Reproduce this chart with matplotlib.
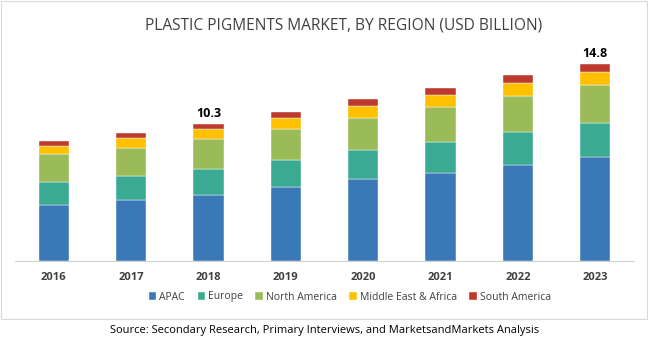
import numpy as np
import matplotlib.pyplot as plt
from matplotlib.patches import Rectangle

years = ['2016', '2017', '2018', '2019', '2020', '2021', '2022', '2023']
apac = [4.24, 4.62, 4.99, 5.59, 6.15, 6.65, 7.25, 7.85]
europe = [1.73, 1.76, 1.91, 2.03, 2.23, 2.33, 2.48, 2.52]
north_america = [2.09, 2.15, 2.30, 2.33, 2.39, 2.64, 2.71, 2.86]
mea = [0.63, 0.73, 0.73, 0.83, 0.88, 0.88, 0.93, 1.00]
south_america = [0.33, 0.38, 0.35, 0.43, 0.53, 0.53, 0.60, 0.58]
regions = ['APAC', 'Europe', 'North America', 'Middle East & Africa', 'South America']
colors = ['#3A78B8', '#3AAA93', '#9BBB59', '#FFC000', '#BE3A2F']
labelled = {'2018': '10.3', '2023': '14.8'}

plt.rcParams['font.family'] = ['Open Sans', 'DejaVu Sans']

fig = plt.figure(figsize=(6.5, 3.46), dpi=100)
ax = fig.add_axes([15/650, 85/346, 619/650, 221/346])

series = [apac, europe, north_america, mea, south_america]
x = np.arange(len(years))
bottom = np.zeros(len(years))
for name, vals, c in zip(regions, series, colors):
    ax.bar(x, vals, 0.39, bottom=bottom, color=c, label=name, edgecolor='white', linewidth=0.3)
    bottom += np.array(vals)

for i, y in enumerate(years):
    if y in labelled:
        ax.text(x[i], bottom[i] + 0.3, labelled[y], ha='center', va='bottom',
                fontsize=9, fontweight='bold', color='black')

ax.set_xlim(-0.5, len(years) - 0.5)
ax.set_ylim(0, 221 / 13.28)
ax.set_yticks([])
for s in ['top', 'right', 'left']:
    ax.spines[s].set_visible(False)
ax.spines['bottom'].set_color('#D0D0D0')
ax.set_xticks(x)
ax.set_xticklabels(years, fontsize=8, fontweight='bold', color='#404040')
ax.tick_params(axis='x', length=0, pad=8)

fig.text(344/650, 1 - 25/346, 'PLASTIC PIGMENTS MARKET, BY REGION (USD BILLION)',
         ha='center', va='center', fontsize=11.2, color='#404040')

fig.legend(loc='center', bbox_to_anchor=(350/650, 1 - 297/346), ncol=5, frameon=False,
           fontsize=7.5, handlelength=0.7, handleheight=0.7, handletextpad=0.3,
           columnspacing=1.2, labelcolor='#404040')

# outer frame and source line
fig.patches.append(Rectangle((1/650, 1 - 319/346), 646/650, 318/346, transform=fig.transFigure,
                             fill=False, edgecolor='#D9D9D9', linewidth=0.8))
fig.text(325/650, 1 - 331/346,
         'Source: Secondary Research, Primary Interviews, and MarketsandMarkets Analysis',
         ha='center', va='center', fontsize=8, color='black')

fig.savefig('out.png', dpi=100)
